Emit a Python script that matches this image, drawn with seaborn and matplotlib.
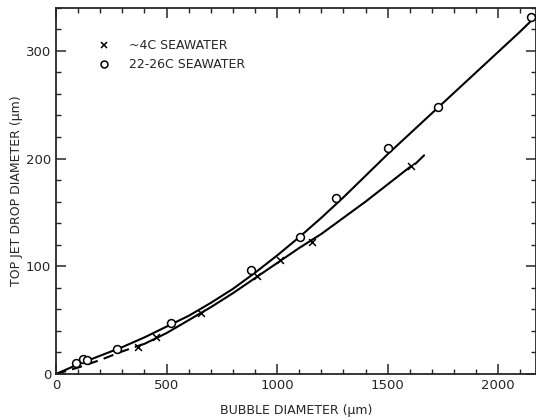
import pandas as pd
import matplotlib.pyplot as plt
import seaborn as sns
from matplotlib.lines import Line2D
from matplotlib.ticker import MultipleLocator

# =========================
# Data
# =========================
warm_bubble = [90, 122, 140, 275, 521, 881, 1103, 1266, 1500, 1730, 2150]
warm_drop = [10, 14, 13, 23, 47, 97, 127, 163, 210, 248, 331]

cold_bubble = [370, 453, 656, 910, 1013, 1158, 1608]
cold_drop = [25, 34, 57, 91, 106, 123, 193]

# hand-drawn fit curves
warm_fit_x = [0, 100, 200, 300, 400, 500, 600, 700, 800, 900, 1000, 1100,
              1200, 1300, 1400, 1500, 1600, 1700, 1800, 1900, 2000, 2100, 2160]
warm_fit_y = [0, 9, 17, 25, 34, 44, 54, 66, 79, 94, 110, 127,
              145, 164, 184, 204, 223, 242, 261, 280, 299, 318, 330]

cold_dash1_x = [0, 100, 200, 300, 370]
cold_dash1_y = [0, 6, 13, 21, 26]
cold_solid_x = [370, 400, 500, 600, 700, 800, 900, 1000, 1100, 1200, 1300, 1400, 1500, 1600]
cold_solid_y = [26, 28, 38, 50, 62, 75, 89, 103, 117, 130, 145, 160, 176, 192]
cold_tail_x = [1625, 1665]
cold_tail_y = [195, 203]

sns.set_style("ticks")
plt.rcParams['font.family'] = ['DejaVu Sans']

fig = plt.figure(figsize=(5.36, 4.2), dpi=100)
ax = fig.add_axes([0.1045, 0.1095, 0.895, 0.872])

# curves
sns.lineplot(ax=ax, x=warm_fit_x, y=warm_fit_y, color='black', lw=1.5, sort=False)
sns.lineplot(ax=ax, x=cold_dash1_x, y=cold_dash1_y, color='black', lw=1.5, sort=False,
             linestyle=(0, (5, 3)))
sns.lineplot(ax=ax, x=cold_solid_x, y=cold_solid_y, color='black', lw=1.5, sort=False)
sns.lineplot(ax=ax, x=cold_tail_x, y=cold_tail_y, color='black', lw=1.5, sort=False)

# points
sns.scatterplot(ax=ax, x=warm_bubble, y=warm_drop, marker='o', s=32,
                facecolor='white', edgecolor='black', linewidth=1.1, zorder=5)
sns.scatterplot(ax=ax, x=cold_bubble, y=cold_drop, marker='x', s=24,
                color='black', linewidth=1.1, zorder=5)

ax.set_xlim(0, 2170)
ax.set_ylim(0, 340)
ax.xaxis.set_major_locator(MultipleLocator(500))
ax.xaxis.set_minor_locator(MultipleLocator(100))
ax.yaxis.set_major_locator(MultipleLocator(100))
ax.yaxis.set_minor_locator(MultipleLocator(20))
ax.tick_params(which='both', direction='in', top=True, right=True, labelsize=9.5)
ax.tick_params(which='major', length=7, width=1.1)
ax.tick_params(which='minor', length=3.5, width=1.0)
for s in ax.spines.values():
    s.set_linewidth(1.3)

ax.set_xlabel("BUBBLE DIAMETER (μm)", fontsize=9, labelpad=9)
ax.set_ylabel("TOP JET DROP DIAMETER (μm)", fontsize=9, labelpad=2)

# legend
handles = [
    Line2D([], [], marker='x', color='black', linestyle='none', markersize=5, mew=1.1),
    Line2D([], [], marker='o', markerfacecolor='white', markeredgecolor='black',
           linestyle='none', markersize=5, mew=1.1),
]
ax.legend(handles, ["~4C SEAWATER", "22-26C SEAWATER"], loc='upper left',
          bbox_to_anchor=(0.05, 0.945), frameon=False, fontsize=9,
          handletextpad=1.0, labelspacing=0.5)

plt.savefig("out.png", dpi=100)
